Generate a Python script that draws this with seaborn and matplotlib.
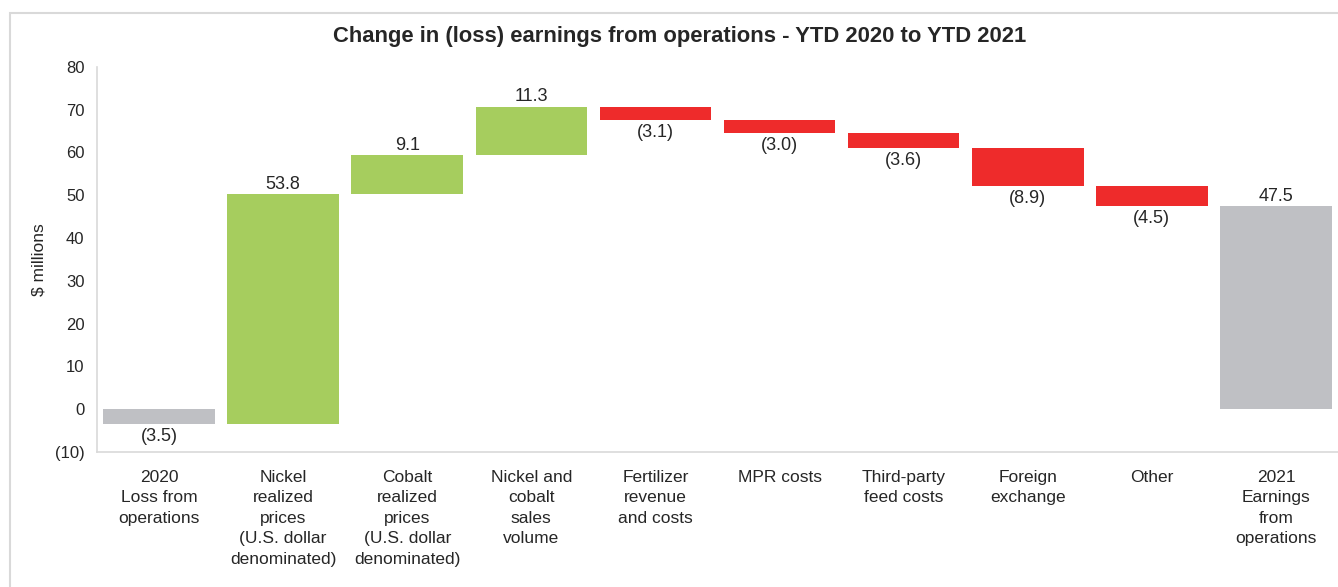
import numpy as np
import pandas as pd
import seaborn as sns
import matplotlib.pyplot as plt
from matplotlib.patches import Rectangle
from matplotlib.ticker import FuncFormatter

categories = [
    "2020\nLoss from\noperations",
    "Nickel\nrealized\nprices\n(U.S. dollar\ndenominated)",
    "Cobalt\nrealized\nprices\n(U.S. dollar\ndenominated)",
    "Nickel and\ncobalt\nsales\nvolume",
    "Fertilizer\nrevenue\nand costs",
    "MPR costs",
    "Third-party\nfeed costs",
    "Foreign\nexchange",
    "Other",
    "2021\nEarnings\nfrom\noperations",
]
changes = [-3.5, 53.8, 9.1, 11.3, -3.1, -3.0, -3.6, -8.9, -4.5, 47.5]
is_total = [True, False, False, False, False, False, False, False, False, True]

green = "#a6cd5e"
red = "#ee2b2b"
gray = "#bfc0c4"

# Build waterfall bases
bottoms = []
running = 0.0
for val, tot in zip(changes, is_total):
    if tot:
        bottoms.append(0.0)
        running = val
    else:
        bottoms.append(running)
        running += val
colors = [gray if t else (green if v > 0 else red) for v, t in zip(changes, is_total)]

df = pd.DataFrame({"category": categories, "change": changes, "bottom": bottoms})

sns.set_theme(style="white")
plt.rcParams["font.family"] = ["Liberation Sans", "DejaVu Sans"]

fig = plt.figure(figsize=(13.38, 5.87), dpi=100)
ax = fig.add_axes([0.0725, 0.23, 0.9275, 0.656])

sns.barplot(data=df, x="category", y="change", order=categories, bottom=df["bottom"].to_numpy(),
            width=0.9, errorbar=None, color=gray, ax=ax, linewidth=0)
for patch, c in zip(ax.patches, colors):
    patch.set_facecolor(c)

# Value labels
for i, (val, b) in enumerate(zip(changes, bottoms)):
    txt = f"{val:.1f}" if val >= 0 else f"({abs(val):.1f})"
    if val >= 0:
        ax.annotate(txt, (i, b + val), xytext=(0, 1), textcoords="offset points",
                    ha="center", va="bottom", fontsize=13, color="#262626")
    else:
        ax.annotate(txt, (i, b + val), xytext=(0, -3), textcoords="offset points",
                    ha="center", va="top", fontsize=13, color="#262626")

ax.set_ylim(-10, 80)
ax.set_xlim(-0.5, 9.5)
ax.set_yticks(np.arange(-10, 81, 10))
ax.yaxis.set_major_formatter(FuncFormatter(lambda v, p: f"({abs(int(v))})" if v < 0 else f"{int(v)}"))
ax.tick_params(axis="y", length=0, labelsize=12, labelcolor="#262626", pad=9)
ax.tick_params(axis="x", length=0, labelsize=12.5, labelcolor="#262626", pad=13)
for lbl in ax.get_xticklabels():
    lbl.set_linespacing(1.45)
ax.set_xlabel("")
ax.set_ylabel("\\$ millions", fontsize=12.5, color="#262626", labelpad=6)

for s in ["top", "right"]:
    ax.spines[s].set_visible(False)
for s in ["left", "bottom"]:
    ax.spines[s].set_color("#d9d9d9")
    ax.spines[s].set_linewidth(1.2)

fig.suptitle("Change in (loss) earnings from operations - YTD 2020 to YTD 2021",
             x=0.508, y=0.955, fontsize=15.8, fontweight="bold", color="#262626")

# Light frame around the chart area
fig.patches.append(Rectangle((10 / 1338, -0.01), 1.0, 1 - 13 / 587 + 0.01, transform=fig.transFigure,
                             fill=False, edgecolor="#d9d9d9", linewidth=1.5))

fig.savefig("out.png", dpi=100)
